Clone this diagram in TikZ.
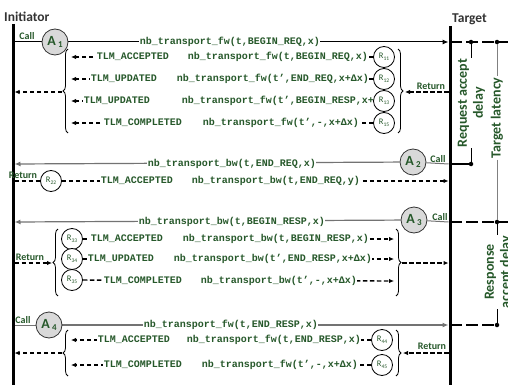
\documentclass[tikz,border=0pt]{standalone}
\usepackage{fontspec}
\setmonofont{Liberation Mono}
\newfontfamily\carl{Carlito}
\usetikzlibrary{arrows.meta,decorations.pathreplacing}
\pgfdeclarelayer{bg}
\pgfsetlayers{bg,main}
\definecolor{tg}{RGB}{38,88,42}
\definecolor{hd}{RGB}{51,51,51}
\newcommand\myrsub[1]{{\fontsize{5.5}{6}\selectfont\raisebox{-1.5pt}{#1}}}
\newcommand\myasub[1]{\,{\fontsize{9}{9}\selectfont\raisebox{-2.5pt}{#1}}}
\begin{document}
\begin{tikzpicture}[x=1pt,y=-1pt,
  life/.style={line width=3pt},
  callk/.style={line width=1pt,-{Latex[length=6pt,width=5pt]}},
  callg/.style={line width=1.2pt,draw=black!55,-{Latex[length=6pt,width=5pt]}},
  plain/.style={line width=1pt},
  ret/.style={line width=1.4pt,dash pattern=on 4.5pt off 2.5pt,-{Latex[length=5pt,width=4.5pt]}},
  retn/.style={line width=1.4pt,dash pattern=on 4.5pt off 2.5pt},
  acirc/.style={circle,draw=black!80,line width=0.8pt,fill=black!15,minimum size=26pt,inner sep=0pt,font=\carl\bfseries\fontsize{14}{14}\selectfont,text=tg},
  rcirc/.style={circle,draw,line width=0.8pt,fill=white,minimum size=21pt,inner sep=0pt,font=\carl\fontsize{8.5}{8.5}\selectfont,text=tg},
  mono/.style={font=\ttfamily\bfseries\fontsize{10}{10}\selectfont,text=tg,fill=white,inner sep=0.6pt,anchor=west},
  lab/.style={font=\carl\bfseries\fontsize{10}{10}\selectfont,text=tg,inner sep=0pt},
  head/.style={font=\carl\bfseries\fontsize{13.5}{14}\selectfont,text=hd,inner sep=0pt,anchor=west},
  vlab/.style={font=\carl\bfseries\fontsize{14}{16}\selectfont,text=tg,rotate=90,align=center,inner sep=1pt},
  brc/.style={decorate,decoration={brace,amplitude=5pt},line width=0.8pt},
  dotn/.style={circle,fill,inner sep=0pt,minimum size=4.5pt},
  ann/.style={line width=1.6pt,dash pattern=on 12pt off 4pt}]
\useasboundingbox (0,0) rectangle (508,385);

% headings and lifelines
\node[head] (ini) at (4,17) {Initiator};
\node[head] (tgt) at (452,19) {Target};
\coordinate (L0) at (13,24); \coordinate (L1) at (13,386);
\coordinate (T0) at (450,26); \coordinate (T1) at (450,386);
\draw[life] (L0) -- (L1);
\draw[life] (T0) -- (T1);

% ---------- A1 ----------
\node[acirc] (A1) at (55,42) {A\myasub{1}};
\coordinate (ca1) at (14.5,42);
\coordinate (ta1) at (448.5,42);
\node[lab,anchor=south] (call1) at (27,40) {Call};
\begin{pgfonlayer}{bg}
\draw[plain] (ca1) -- (A1);
\draw[callk] (A1) -- (ta1);
\end{pgfonlayer}
\node[mono] (m1) at (139,42) {nb\_transport\_fw(t,BEGIN\_REQ,x)};

% group 1
\node[mono] (x11) at (96,57) {TLM\_ACCEPTED\hspace{19pt}nb\_transport\_fw(t,BEGIN\_REQ,x)};
\node[mono] (x12) at (90,79) {TLM\_UPDATED\hspace{20pt}nb\_transport\_fw(t’,END\_REQ,x+Δx)};
\node[mono] (x13) at (83,101) {TLM\_UPDATED\hspace{32pt}nb\_transport\_fw(t’,BEGIN\_RESP,x+Δx)};
\node[mono] (x15) at (103,123) {TLM\_COMPLETED\hspace{21pt}nb\_transport\_fw(t’,-,x+Δx)};
\node[rcirc] (R11) at (384,57) {R\myrsub{11}};
\node[rcirc] (R12) at (384,79) {R\myrsub{12}};
\node[rcirc] (R13) at (384,101) {R\myrsub{13}};
\node[rcirc] (R15) at (384,123) {R\myrsub{15}};
\coordinate (b11) at (71,57);
\coordinate (b12) at (71,79);
\coordinate (b13) at (71,101);
\coordinate (b15) at (71,123);
\begin{pgfonlayer}{bg}
\draw[ret] (R11) -- (b11);
\draw[ret] (R12) -- (b12);
\draw[ret] (R13) -- (b13);
\draw[ret] (R15) -- (b15);
\end{pgfonlayer}
\coordinate (lb1a) at (68,133); \coordinate (lb1b) at (68,49);
\draw[brc] (lb1a) -- (lb1b);
\coordinate (lt1) at (62,92); \coordinate (li1) at (14.5,92);
\draw[ret] (lt1) -- (li1);
\coordinate (rb1a) at (398,49); \coordinate (rb1b) at (398,133);
\draw[brc] (rb1a) -- (rb1b);
\coordinate (rt1) at (405,92); \coordinate (ri1) at (448.5,92);
\draw[ret] (ri1) -- (rt1);
\node[lab] (ret1) at (431,86) {Return};

% ---------- A2 ----------
\node[acirc] (A2) at (413,162) {A\myasub{2}};
\coordinate (ia2) at (14.5,164);
\coordinate (ta2) at (448.5,164);
\node[lab,anchor=south] (call2) at (438,163) {Call};
\begin{pgfonlayer}{bg}
\draw[callg] (A2) -- (ia2);
\draw[plain,draw=black!55] (A2) -- (ta2);
\end{pgfonlayer}
\node[mono] (m2) at (147,164) {nb\_transport\_bw(t,END\_REQ,x)};

% R22
\node[rcirc] (R22) at (51,181) {R\myrsub{22}};
\node[lab] (ret2) at (23,175) {Return};
\coordinate (i22) at (14.5,181);
\coordinate (t22) at (448.5,181);
\begin{pgfonlayer}{bg}
\draw[retn] (i22) -- (R22);
\draw[ret] (R22) -- (t22);
\end{pgfonlayer}
\node[mono] (x22) at (100,181) {TLM\_ACCEPTED\hspace{19pt}nb\_transport\_bw(t,END\_REQ,y)};

% ---------- A3 ----------
\node[acirc] (A3) at (414,220) {A\myasub{3}};
\coordinate (ia3) at (14.5,222);
\coordinate (ta3) at (448.5,222);
\node[lab,anchor=south] (call3) at (440,221) {Call};
\begin{pgfonlayer}{bg}
\draw[callg] (A3) -- (ia3);
\draw[plain,draw=black!55] (A3) -- (ta3);
\end{pgfonlayer}
\node[mono] (m3) at (138,222) {nb\_transport\_bw(t,BEGIN\_RESP,x)};

% group 3
\node[mono] (x33) at (90,239) {TLM\_ACCEPTED\hspace{20pt}nb\_transport\_bw(t,BEGIN\_RESP,x)};
\node[mono] (x34) at (87,259) {TLM\_UPDATED\hspace{20pt}nb\_transport\_bw(t’,END\_RESP,x+Δx)};
\node[mono] (x35) at (103,281) {TLM\_COMPLETED\hspace{19pt}nb\_transport\_bw(t’,-,x+Δx)};
\node[rcirc] (R33) at (72,239) {R\myrsub{33}};
\node[rcirc] (R34) at (72,259) {R\myrsub{34}};
\node[rcirc] (R35) at (72,280) {R\myrsub{35}};
\coordinate (b33) at (394,239);
\coordinate (b34) at (394,259);
\coordinate (b35) at (394,281);
\begin{pgfonlayer}{bg}
\draw[ret] (R33) -- (b33);
\draw[ret] (R34) -- (b34);
\draw[ret] (R35) -- (b35);
\end{pgfonlayer}
\coordinate (lb3a) at (58,296); \coordinate (lb3b) at (58,229);
\draw[brc] (lb3a) -- (lb3b);
\coordinate (li3) at (14.5,263); \coordinate (lt3) at (52,263);
\draw[ret] (li3) -- (lt3);
\node[lab] (ret3) at (30,257) {Return};
\coordinate (rb3a) at (396,229); \coordinate (rb3b) at (396,296);
\draw[brc] (rb3a) -- (rb3b);
\coordinate (rt3) at (402,263); \coordinate (ri3) at (448.5,263);
\draw[ret] (rt3) -- (ri3);

% ---------- A4 ----------
\node[acirc] (A4) at (49,325) {A\myasub{4}};
\coordinate (ia4) at (14.5,325);
\coordinate (ta4) at (448.5,325);
\node[lab,anchor=south] (call4) at (23,324) {Call};
\begin{pgfonlayer}{bg}
\draw[plain,draw=black!55] (ia4) -- (A4);
\draw[callg] (A4) -- (ta4);
\end{pgfonlayer}
\node[mono] (m4) at (143,325) {nb\_transport\_fw(t,END\_RESP,x)};

% group 4
\node[mono] (x44) at (97,340) {TLM\_ACCEPTED\hspace{17pt}nb\_transport\_fw(t,END\_RESP,x)};
\node[mono] (x45) at (103,365) {TLM\_COMPLETED\hspace{20pt}nb\_transport\_fw(t’,-,x+Δx)};
\node[rcirc] (R44) at (382,340) {R\myrsub{44}};
\node[rcirc] (R45) at (382,365) {R\myrsub{45}};
\coordinate (b44) at (71,340);
\coordinate (b45) at (71,365);
\begin{pgfonlayer}{bg}
\draw[ret] (R44) -- (b44);
\draw[ret] (R45) -- (b45);
\end{pgfonlayer}
\coordinate (lb4a) at (68,376); \coordinate (lb4b) at (68,330);
\draw[brc] (lb4a) -- (lb4b);
\coordinate (lt4) at (62,353); \coordinate (li4) at (14.5,353);
\draw[ret] (lt4) -- (li4);
\coordinate (rb4a) at (396,330); \coordinate (rb4b) at (396,376);
\draw[brc] (rb4a) -- (rb4b);
\coordinate (rt4) at (403,353); \coordinate (ri4) at (448.5,353);
\draw[ret] (ri4) -- (rt4);
\node[lab] (ret4) at (432,346) {Return};

% ---------- right-hand annotations ----------
\node[dotn] (d1) at (471,42) {};
\node[dotn] (d2) at (497,42) {};
\node[dotn] (d3) at (471,164) {};
\node[dotn] (d4) at (497,222) {};
\node[dotn] (d5) at (497,325) {};
\coordinate (e1) at (450,42); \coordinate (e1r) at (510,42);
\coordinate (e2) at (450,164);
\coordinate (e3) at (450,222); \coordinate (e3r) at (510,222);
\coordinate (e4) at (450,325);
\draw[ann] (e1) -- (e1r);
\draw[line width=1.6pt] (e2) -- (d3);
\draw[ann] (e3) -- (e3r);
\draw[ann] (e4) -- (d5);
\node[vlab] (rad) at (471.5,103) {Request accept\\delay};
\node[vlab] (tl) at (497,118) {Target latency};
\node[vlab] (rsp) at (498.5,272) {Response\\accept delay};
\draw[line width=1pt] (d1) -- (d1 |- rad.east);
\draw[line width=1pt] (d3 |- rad.west) -- (d3);
\draw[line width=1pt,draw=black!50] (d2) -- (tl.east);
\draw[line width=1pt,draw=black!50] (tl.west) -- (d4);
\draw[line width=1pt] (d4) -- (d4 |- rsp.east);
\draw[line width=1pt] (d5 |- rsp.west) -- (d5);
\end{tikzpicture}
\end{document}
